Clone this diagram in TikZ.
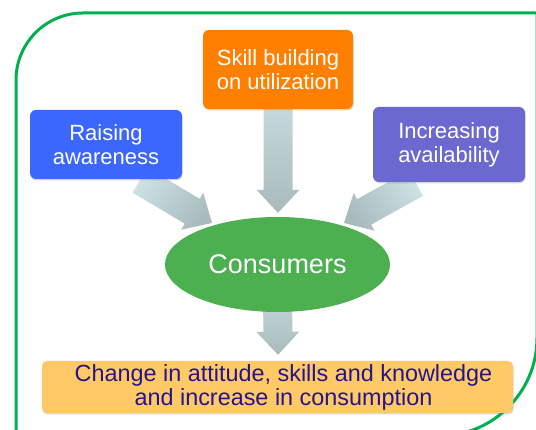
\documentclass[tikz,border=0pt]{standalone}
\usepackage{fontspec}
\setmainfont{Liberation Sans}
\usetikzlibrary{calc,shapes.geometric,shadows,backgrounds}

\definecolor{frameGreen}{RGB}{0,176,80}
\definecolor{skillOrange}{RGB}{255,128,0}
\definecolor{awareBlue}{RGB}{59,103,255}
\definecolor{availPurple}{RGB}{107,105,207}
\definecolor{consGreen}{RGB}{76,175,80}
\definecolor{outcomeYellow}{RGB}{255,201,102}
\definecolor{outcomeText}{RGB}{38,20,140}
\definecolor{arrowLight}{RGB}{204,226,228}
\definecolor{arrowDark}{RGB}{168,186,188}

\tikzset{
  x=1pt, y=1pt,
  frame/.style={draw=frameGreen, line width=3pt},
  topicbox/.style={rounded corners=6pt, inner sep=0pt, text=white, align=center,
    font=\fontsize{22}{24}\selectfont,
    drop shadow={shadow xshift=0.6pt, shadow yshift=-1.4pt, opacity=0.3}},
  hub/.style={ellipse, fill=consGreen, inner sep=0pt, text=white,
    font=\fontsize{27}{30}\selectfont},
  outcomebox/.style={rounded corners=5pt, fill=outcomeYellow, inner sep=0pt,
    drop shadow={shadow xshift=0.6pt, shadow yshift=-1.4pt, opacity=0.3}},
  outcometext/.style={text=outcomeText, align=center,
    font=\fontsize{23.4}{24}\selectfont},
  fatarrow/.style={top color=arrowLight, bottom color=arrowDark},
}

% Block arrow: #1 style, #2 start point, #3 tip
\newcommand\fatarrow[3]{%
  \coordinate (fa-base) at ($(#3)!23pt!(#2)$);
  \shade[#1] ($(#2)!14.5pt!90:(#3)$) -- ($(fa-base)!14.5pt!90:(#3)$)
    -- ($(fa-base)!21.5pt!90:(#3)$) -- (#3)
    -- ($(fa-base)!21.5pt!-90:(#3)$) -- ($(fa-base)!14.5pt!-90:(#3)$)
    -- ($(#2)!14.5pt!-90:(#3)$) -- cycle;}

\begin{document}
\begin{tikzpicture}
\useasboundingbox (0,0) rectangle (536,430);

% outer rounded frame
\draw[frame] (16,-6) -- (16,350) arc[start angle=180, end angle=90, radius=67]
  -- (537,417) -- (537,92) arc[start angle=0, end angle=-90, radius=98] -- cycle;

% boxes
\node[topicbox, fill=skillOrange, minimum width=150pt, minimum height=79pt]
  (skill) at (278,360.5) {Skill building\\on utilization};
\node[topicbox, fill=awareBlue, minimum width=152pt, minimum height=69pt]
  (aware) at (106,285.5) {Raising\\awareness};
\node[topicbox, fill=availPurple, minimum width=152pt, minimum height=75pt]
  (avail) at (449,285.5) {Increasing\\availability};
\node[hub, minimum width=225pt, minimum height=95pt] (cons) at (277.5,165.5) {Consumers};
\node[outcomebox, minimum width=471pt, minimum height=52pt] (outcome) at (277.5,43) {};
\node[outcometext] (outcomelabel) at ([xshift=6pt]outcome.center)
  {Change in attitude, skills and knowledge\\and increase in consumption};

% arrow start and tip points
\coordinate (skillStart) at ([yshift=-8pt]skill.center);
\coordinate (awareStart) at ($(aware.south)+(34,-1)$);
\coordinate (availStart) at ($(avail.south)+(-33,-1)$);
\coordinate (consStart)  at ([yshift=-14pt]cons.center);
\coordinate (skillTip) at ($(cons.north)+(0.5,4)$);
\coordinate (awareTip) at (212,207);
\coordinate (availTip) at (344,207);
\coordinate (consTip)  at ($(outcome.north)+(0.5,6)$);

\begin{scope}[on background layer]
  \fill[white] (0,0) rectangle (536,430);
  \fatarrow{fatarrow}{skillStart}{skillTip}
  \fatarrow{fatarrow, shading angle=56}{awareStart}{awareTip}
  \fatarrow{fatarrow, shading angle=-56}{availStart}{availTip}
  \fatarrow{fatarrow}{consStart}{consTip}
\end{scope}
\end{tikzpicture}
\end{document}
